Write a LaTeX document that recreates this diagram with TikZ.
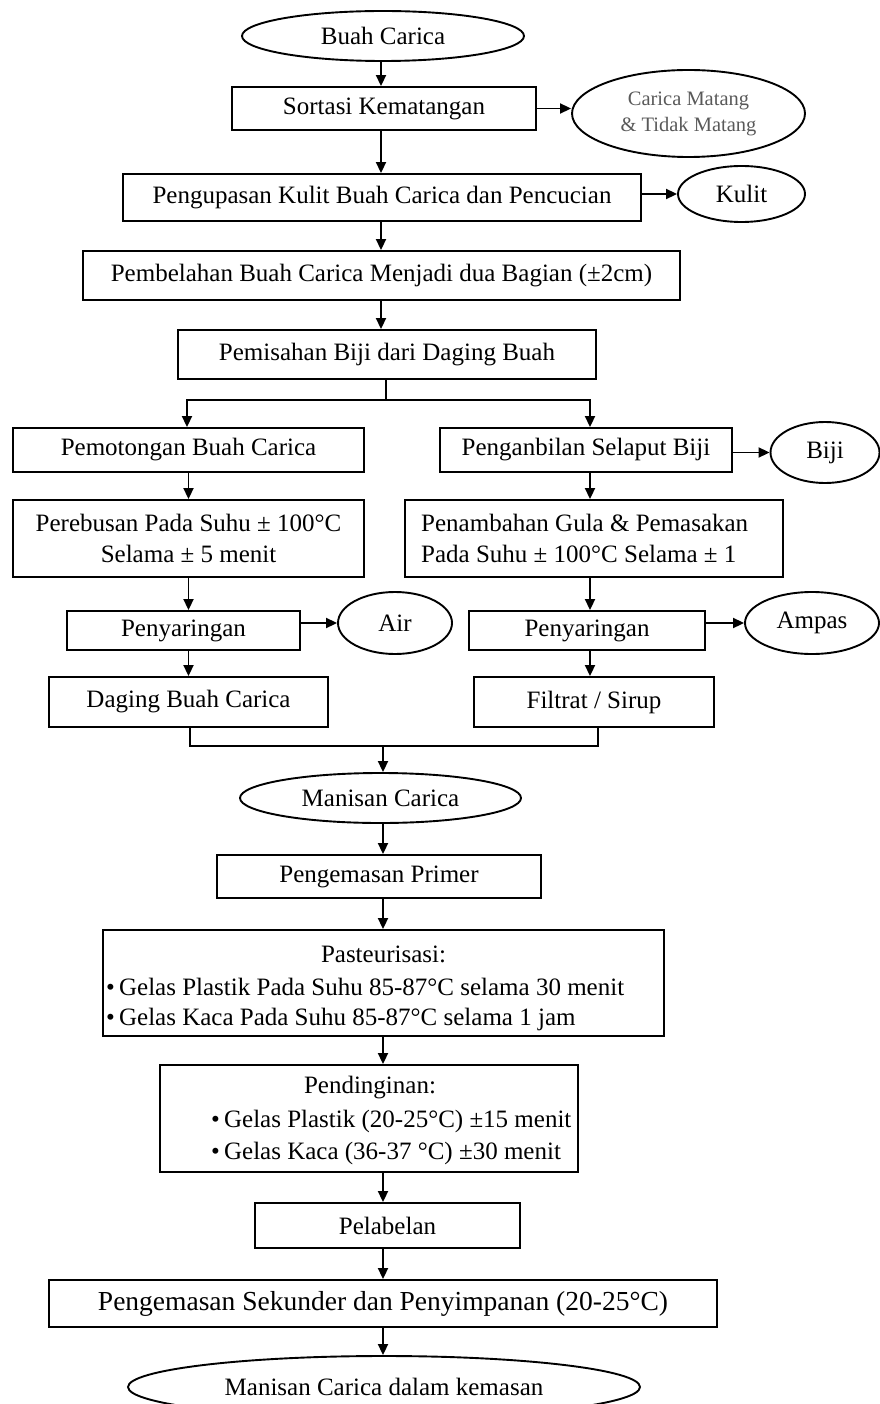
\documentclass[tikz,border=0pt]{standalone}
\usepackage{fontspec}
\setmainfont{Liberation Serif}
\usetikzlibrary{arrows.meta,shapes.geometric}
\begin{document}
\begin{tikzpicture}[x=1pt,y=-1pt,
  every node/.style={font=\fontsize{25}{31}\selectfont, inner sep=0pt},
  box/.style={draw, line width=1.9pt, rectangle, align=center},
  oval/.style={draw, line width=1.9pt, ellipse, align=center},
  arr/.style={line width=1.9pt, -{Triangle[length=11pt,width=10pt]}},
  ln/.style={line width=1.9pt}]
\useasboundingbox (0,0) rectangle (879,1404);
% main chain top
\node[oval, minimum width=282pt, minimum height=50pt] (buah) at (383,36) {Buah Carica};
\node[box, minimum width=304pt, minimum height=43pt] (sort) at (384,108.5) {Sortasi Kematangan};
\node[oval, minimum width=233pt, minimum height=87pt, text=black!65, font=\fontsize{20.5}{26}\selectfont] (matang) at (688.5,113.5) {Carica Matang\\\& Tidak Matang};
\node[box, minimum width=518pt, minimum height=47pt] (kupas) at (382,197.5) {Pengupasan Kulit Buah Carica dan Pencucian};
\node[oval, minimum width=127pt, minimum height=56pt] (kulit) at (741.5,194) {Kulit};
\node[box, minimum width=597pt, minimum height=49pt] (belah) at (381.5,275.5) {Pembelahan Buah Carica Menjadi dua Bagian (±2cm)};
\node[box, minimum width=418pt, minimum height=49pt] (pisah) at (387,354.5) {Pemisahan Biji dari Daging Buah};
% left branch
\node[box, minimum width=351pt, minimum height=44pt] (potong) at (188.5,450) {Pemotongan Buah Carica};
\node[box, minimum width=351pt, minimum height=77pt] (rebus) at (188.5,538.5) {Perebusan Pada Suhu ± 100°C\\Selama ± 5 menit};
\node[box, minimum width=233pt, minimum height=39pt] (saringL) at (183.5,630.5) {Penyaringan};
\node[oval, minimum width=114pt, minimum height=62pt] (air) at (395,623) {Air};
\node[box, minimum width=279pt, minimum height=50pt] (daging) at (188.5,702) {Daging Buah Carica};
% right branch
\node[box, minimum width=292pt, minimum height=44pt] (ambil) at (586,450) {Penganbilan Selaput Biji};
\node[oval, minimum width=109pt, minimum height=61pt] (biji) at (825,452.5) {Biji};
\node[box, minimum width=378pt, minimum height=77pt] (tambah) at (594,538.5) {};
\node[anchor=west] (tambahA) at (421,523) {Penambahan Gula \& Pemasakan};
\node[anchor=west] (tambahB) at (421,554) {Pada Suhu ± 100°C Selama ± 1};
\node[box, minimum width=236pt, minimum height=39pt] (saringR) at (587,630.5) {Penyaringan};
\node[oval, minimum width=134pt, minimum height=62pt] (ampas) at (812,623) {Ampas};
\node[box, minimum width=240pt, minimum height=50pt] (filtrat) at (594,702) {Filtrat / Sirup};
% lower chain
\node[oval, minimum width=281pt, minimum height=50pt] (manisan) at (380.5,798) {Manisan Carica};
\node[box, minimum width=324pt, minimum height=43pt] (primer) at (379,876.5) {Pengemasan Primer};
\node[box, minimum width=561pt, minimum height=106pt] (pasteur) at (383.5,983) {};
\node[anchor=center] (pasteurT) at (383.5,954) {Pasteurisasi:};
\node[anchor=west] (pasteurA) at (106,987) {\textbullet\,Gelas Plastik Pada Suhu 85-87°C selama 30 menit};
\node[anchor=west] (pasteurB) at (106,1019) {\textbullet\,Gelas Kaca Pada Suhu 85-87°C selama 1 jam};
\node[box, minimum width=418pt, minimum height=107pt] (dingin) at (369,1118.5) {};
\node[anchor=center] (dinginT) at (370,1088) {Pendinginan:};
\node[anchor=west] (dinginA) at (211,1121) {\textbullet\,Gelas Plastik (20-25°C) ±15 menit};
\node[anchor=west] (dinginB) at (211,1153) {\textbullet\,Gelas Kaca (36-37 °C) ±30 menit};
\node[box, minimum width=265pt, minimum height=45pt] (label) at (387.5,1225.5) {Pelabelan};
\node[box, minimum width=668pt, minimum height=47pt, font=\fontsize{27.5}{33}\selectfont] (sekunder) at (383,1303.5) {Pengemasan Sekunder dan Penyimpanan (20-25°C)};
\node[oval, minimum width=512pt, minimum height=62pt] (kemasan) at (384,1387) {Manisan Carica dalam kemasan};
% connectors main
\coordinate (c1) at (381,0);
\draw[arr] (buah.south -| c1) -- (sort.north -| c1);
\draw[arr] (sort.south -| c1) -- (kupas.north -| c1);
\draw[arr] (kupas.south -| c1) -- (belah.north -| c1);
\draw[arr] (belah.south -| c1) -- (pisah.north -| c1);
\draw[arr] (sort.east) -- (sort.east -| matang.west);
\draw[arr] (kupas.east |- kulit.west) -- (kulit.west);
% split
\coordinate (s0) at (386,400);
\draw[ln] (pisah.south -| s0) -- (s0);
\draw[arr] (s0) -| (potong.north -| 187,0);
\draw[arr] (s0) -| (ambil.north -| 590,0);
\draw[arr] (potong.south) -- (rebus.north);
\draw[arr] (rebus.south) -- (saringL.north -| rebus.south);
\draw[arr] (saringL.east |- air.west) -- (air.west);
\draw[arr] (saringL.south -| rebus.south) -- (daging.north);
\draw[arr] (ambil.east |- biji.west) -- (biji.west);
\draw[arr] (ambil.south -| 590,0) -- (tambah.north -| 590,0);
\draw[arr] (tambah.south -| 590,0) -- (saringR.north -| 590,0);
\draw[arr] (saringR.east |- ampas.west) -- (ampas.west);
\draw[arr] (saringR.south -| 590,0) -- (filtrat.north -| 590,0);
% merge
\coordinate (m0) at (383,746);
\draw[ln] (daging.south -| 190,0) |- (m0) -| (filtrat.south -| 598,0);
\draw[arr] (m0) -- (manisan.north -| m0);
\draw[arr] (manisan.south -| m0) -- (primer.north -| m0);
\draw[arr] (primer.south -| m0) -- (pasteur.north -| m0);
\draw[arr] (pasteur.south -| m0) -- (dingin.north -| m0);
\draw[arr] (dingin.south -| m0) -- (label.north -| m0);
\draw[arr] (label.south -| m0) -- (sekunder.north -| m0);
\draw[arr] (sekunder.south -| m0) -- (kemasan.north -| m0);
\end{tikzpicture}
\end{document}
